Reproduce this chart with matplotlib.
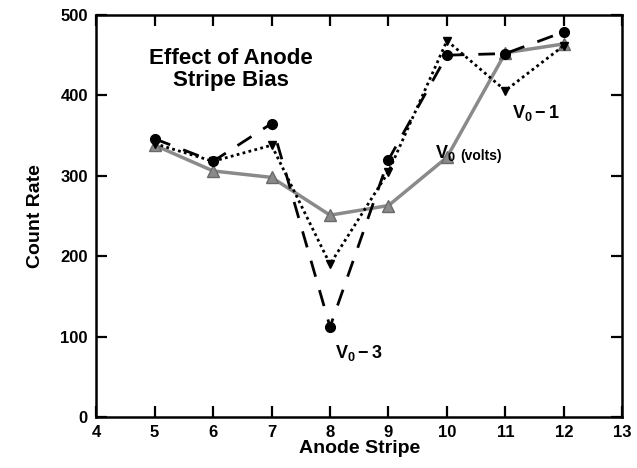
import matplotlib.pyplot as plt

plt.rcParams['font.family'] = ['Liberation Sans', 'DejaVu Sans']
plt.rcParams['font.weight'] = 'bold'
plt.rcParams['mathtext.fontset'] = 'custom'
plt.rcParams['mathtext.rm'] = 'Liberation Sans:bold'
plt.rcParams['mathtext.it'] = 'Liberation Sans:bold'
plt.rcParams['mathtext.bf'] = 'Liberation Sans:bold'

stripes = [5, 6, 7, 8, 9, 10, 11, 12]
# V0 (volts) - grey solid line, triangles
v0 = [338, 306, 298, 251, 263, 323, 453, 464]
# V0 - 1 - dotted line, down triangles
v0_m1 = [340, 318, 338, 190, 305, 468, 406, 462]
# V0 - 3 - dashed line, circles
v0_m3 = [346, 318, 365, 112, 320, 450, 452, 479]

fig = plt.figure(figsize=(6.37, 4.68), dpi=100)
ax = fig.add_axes([0.151, 0.109, 0.826, 0.859])

ax.plot(stripes, v0, color='#8a8a8a', linewidth=2.5, marker='^',
        markersize=8, markerfacecolor='#8a8a8a', markeredgecolor='#6a6a6a')
ax.plot(stripes, v0_m1, color='black', linewidth=2, linestyle=(0, (1, 1.2)),
        marker='v', markersize=6)
ax.plot(stripes, v0_m3, color='black', linewidth=2, linestyle=(0, (6, 5)),
        marker='o', markersize=7)

ax.text(6.3, 432, "Effect of Anode\nStripe Bias", ha='center', va='center',
        fontsize=16, fontweight='bold', linespacing=1.05)
ax.text(9.8, 328, r"$V_0$", ha='left', va='center', fontsize=13)
ax.text(10.22, 325, "(volts)", ha='left', va='center', fontsize=10)
ax.text(11.12, 378, r"$V_0 - 1$", ha='left', va='center', fontsize=13)
ax.text(8.08, 80, r"$V_0 - 3$", ha='left', va='center', fontsize=13)

ax.set_xlim(4, 13)
ax.set_ylim(0, 500)
ax.set_xticks(range(4, 14))
ax.set_yticks(range(0, 501, 100))
ax.tick_params(direction='in', length=8, width=1.6, top=True, right=True,
               labelsize=12, pad=6)
for lab in ax.get_xticklabels() + ax.get_yticklabels():
    lab.set_fontweight('bold')
for s in ax.spines.values():
    s.set_linewidth(1.8)

ax.set_xlabel("Anode Stripe", fontsize=14, fontweight='bold', labelpad=0)
ax.set_ylabel("Count Rate", fontsize=14, fontweight='bold', labelpad=12)

fig.savefig("out.png", dpi=100)
